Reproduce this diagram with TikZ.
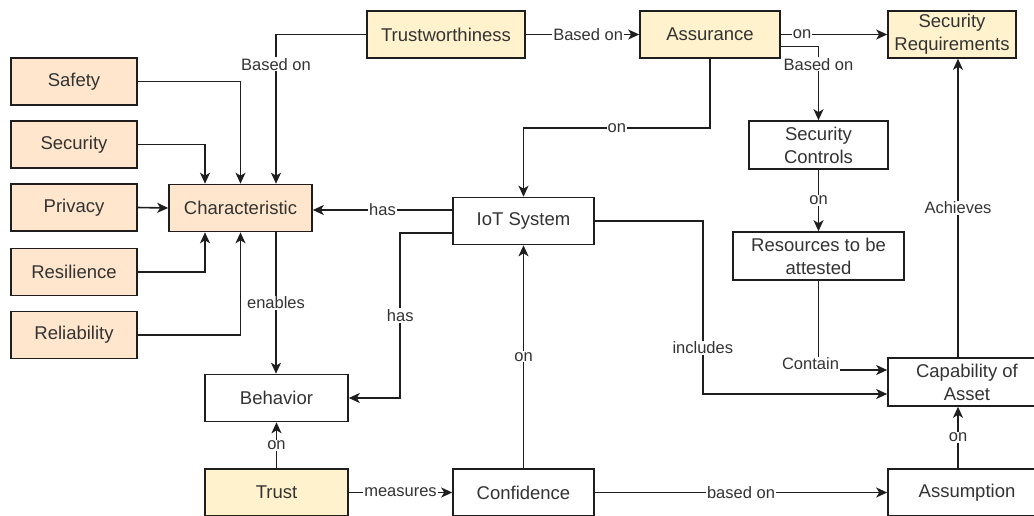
\documentclass[tikz,border=0pt]{standalone}
\usepackage{fontspec}
\setmainfont{Liberation Sans}
\usetikzlibrary{arrows.meta,calc}
\definecolor{orfill}{HTML}{FFE6CC}
\definecolor{yefill}{HTML}{FFF2CC}
\definecolor{txt}{HTML}{333333}
\definecolor{ln}{HTML}{1E1E1E}
\tikzset{
  box/.style={draw=ln, line width=1.6pt, minimum height=47pt, inner sep=2pt,
    align=center, text=txt, font=\fontsize{18.5}{23}\selectfont},
  obox/.style={box, fill=orfill},
  ybox/.style={box, fill=yefill},
  wbox/.style={box, fill=white},
  arr/.style={draw=ln, line width=1.6pt, -{Stealth[length=11pt,width=10pt,inset=3pt]}},
  plain/.style={draw=ln, line width=1.6pt},
  lbl/.style={fill=white, text=txt, inner sep=1pt, font=\fontsize{16.5}{19}\selectfont}
}
\begin{document}
\begin{tikzpicture}[x=1pt,y=-1pt]
\useasboundingbox (0,0) rectangle (1034,515);
\fill[white] (0,0) rectangle (1034,515);
\clip (0,0) rectangle (1034,515);
% nodes
\node[ybox, minimum width=158pt] (trw) at (446,34.5) {Trustworthiness};
\node[ybox, minimum width=140pt] (asr) at (710,34.5) {Assurance};
\node[ybox, minimum width=128pt] (sreq) at (952,34.5) {Security\\Requirements};
\node[obox, minimum width=126pt] (saf) at (74,81.5) {Safety};
\node[obox, minimum width=126pt] (sec) at (74,144.5) {Security};
\node[obox, minimum width=126pt] (pri) at (74,207.5) {Privacy};
\node[obox, minimum width=126pt] (res) at (74,272) {Resilience};
\node[obox, minimum width=126pt] (rel) at (74,335) {Reliability};
\node[obox, minimum width=143pt] (chr) at (240.5,208) {Characteristic};
\node[wbox, minimum width=141pt] (iot) at (523.5,221) {IoT System};
\node[wbox, minimum width=143pt] (beh) at (276.5,398) {Behavior};
\node[ybox, minimum width=143pt] (tru) at (276.5,492.5) {Trust};
\node[wbox, minimum width=141pt] (con) at (523.5,492.5) {Confidence};
\node[wbox, minimum width=158pt] (asm) at (967,492.5) {Assumption};
\node[wbox, minimum width=158pt, minimum height=48pt] (cap) at (967,382) {Capability of\\Asset};
\node[wbox, minimum width=139pt, minimum height=48pt] (sc) at (818.5,145) {Security\\Controls};
\node[wbox, minimum width=171pt, minimum height=48pt] (rta) at (818.5,256) {Resources to be\\attested};
% connectors
\draw[arr] (trw.west) -| node[lbl, pos=0.6] {Based on} ([xshift=35.5pt]chr.north);
\draw[arr] (saf.east) -| (chr.north);
\draw[arr] (sec.east) -| ([xshift=-35.5pt]chr.north);
\draw[arr] (pri.east) -- (chr.west);
\draw[arr] (res.east) -| ([xshift=-35.5pt]chr.south);
\draw[arr] (rel.east) -| (chr.south);
\draw[arr] ([xshift=35.5pt]chr.south) -- node[lbl] {enables} ([xshift=35.5pt]chr.south |- beh.north);
\draw[arr] ([yshift=11pt]iot.west) -- node[lbl] {has} ([yshift=11pt]iot.west -| chr.east);
\draw[arr] ([yshift=-12pt]iot.west) -- ++(-52,0) |- node[lbl, pos=0.25] {has} (beh.east);
\draw[arr] (asr.south) -- ++(0,69) -| node[lbl, pos=0.25] {on} (iot.north);
\draw[arr] (trw.east) -- node[lbl, pos=0.55] {Based on} (asr.west);
\draw[arr] (asr.east) -- node[lbl, pos=0.2] {on} (sreq.west);
\draw[arr] ([yshift=-12pt]asr.east) -| node[lbl, pos=0.62] {Based on} (sc.north);
\draw[arr] (sc.south) -- node[lbl] {on} (rta.north);
\draw[arr] (rta.south) |- node[lbl, pos=0.5, xshift=-8pt, yshift=6pt] {Contain} ([yshift=12pt]cap.west);
\draw[arr] (iot.east) -- ++(108,0) |- node[lbl, pos=0.367] {includes} ([yshift=-12pt]cap.west);
\draw[arr] ([xshift=-9pt]cap.north) -- node[lbl] {Achieves} ([xshift=-9pt]cap.north |- sreq.south);
\draw[arr] (con.north) -- node[lbl] {on} (iot.south);
\draw[arr] (tru.north) -- node[lbl] {on} (beh.south);
\draw[arr] (tru.east) -- node[lbl] {measures} (con.west);
\draw[arr] (con.east) -- node[lbl] {based on} (asm.west);
\draw[arr] ([xshift=-9pt]asm.north) -- node[lbl] {on} ([xshift=-9pt]asm.north |- cap.south);
\end{tikzpicture}
\end{document}
